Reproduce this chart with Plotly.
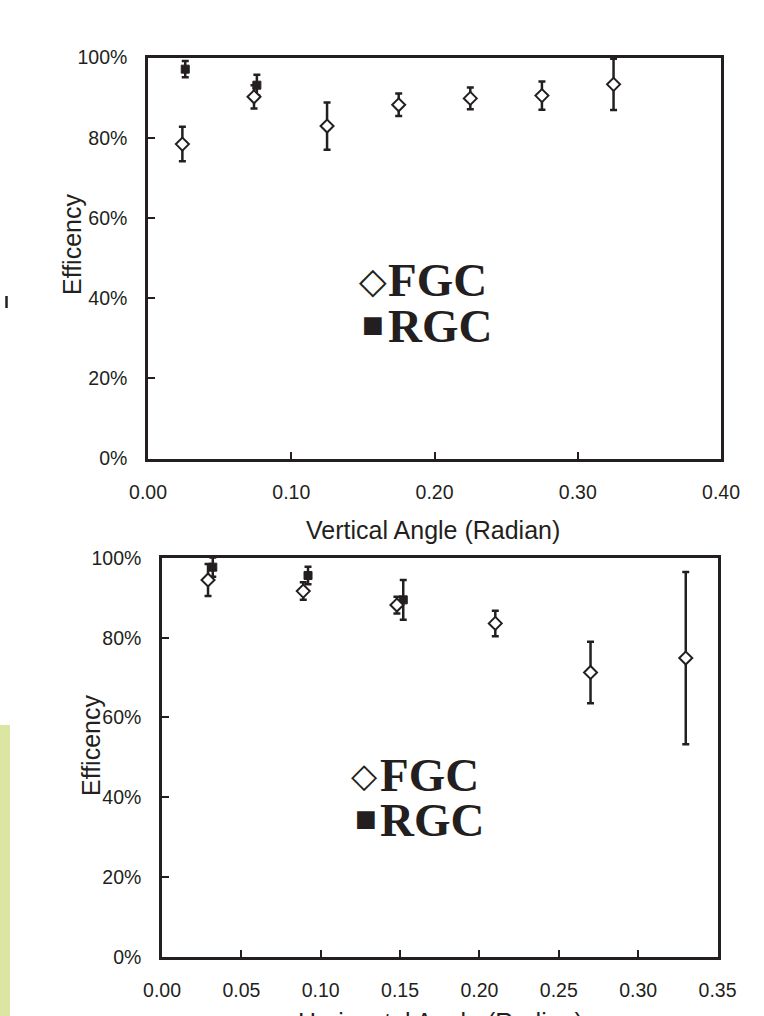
import plotly.graph_objects as go

# ---------------- data ----------------
# Top panel: Vertical angle
v_fgc_x = [0.024, 0.074, 0.125, 0.175, 0.225, 0.275, 0.325]
v_fgc_y = [0.784, 0.902, 0.829, 0.882, 0.898, 0.905, 0.933]
v_fgc_err = [0.043, 0.029, 0.059, 0.028, 0.027, 0.035, 0.064]
v_rgc_x = [0.026, 0.076]
v_rgc_y = [0.971, 0.931]
v_rgc_err = [0.020, 0.026]

# Bottom panel: Horizontal angle
h_fgc_x = [0.029, 0.089, 0.148, 0.210, 0.270, 0.330]
h_fgc_y = [0.945, 0.917, 0.882, 0.836, 0.713, 0.749]
h_fgc_err = [0.040, 0.022, 0.021, 0.032, 0.077, 0.216]
h_rgc_x = [0.032, 0.092, 0.152]
h_rgc_y = [0.977, 0.956, 0.895]
h_rgc_err = [0.024, 0.022, 0.050]

y_ticks = [0, 0.2, 0.4, 0.6, 0.8, 1.0]
top_x_ticks = [0, 0.1, 0.2, 0.3, 0.4]
bot_x_ticks = [0, 0.05, 0.1, 0.15, 0.2, 0.25, 0.3, 0.35]

# ---------------- layout helpers ----------------
W, H = 764, 1016
def px(x):
    return x / W
def py(y):
    return 1 - y / H

INK = "#231f20"
SANS = "Liberation Sans, Arial, sans-serif"
SERIF = "Liberation Serif, Times New Roman, serif"

fig = go.Figure()

def add_series(x, y, err, xa, ya, kind):
    if kind == "rgc":
        marker = dict(symbol="square", size=8, color=INK, line=dict(color=INK, width=1))
    else:
        marker = dict(symbol="diamond", size=10, color="white", line=dict(color=INK, width=2))
    fig.add_trace(go.Scatter(
        x=x, y=y, mode="markers", xaxis=xa, yaxis=ya, showlegend=False,
        marker=marker,
        error_y=dict(type="data", array=err, visible=True, color=INK, thickness=2.5, width=3.5),
    ))

add_series(v_rgc_x, v_rgc_y, v_rgc_err, "x", "y", "rgc")
add_series(v_fgc_x, v_fgc_y, v_fgc_err, "x", "y", "fgc")
add_series(h_rgc_x, h_rgc_y, h_rgc_err, "x2", "y2", "rgc")
add_series(h_fgc_x, h_fgc_y, h_fgc_err, "x2", "y2", "fgc")

axis_common = dict(
    showline=True, linecolor=INK, linewidth=2.5, mirror=True,
    ticks="inside", ticklen=7, tickwidth=2, tickcolor=INK,
    showgrid=False, zeroline=False, automargin=False,
    tickfont=dict(family=SANS, size=19.5, color=INK),
    ticklabelstandoff=14,
)

fig.update_layout(
    template="none",
    width=W, height=H, autosize=False,
    margin=dict(l=0, r=0, t=0, b=0, pad=0, autoexpand=False),
    paper_bgcolor="white", plot_bgcolor="white",
    xaxis=dict(axis_common, domain=[px(148), px(721)], range=[0, 0.4],
               tickvals=top_x_ticks, tickformat=".2f", anchor="y"),
    yaxis=dict(axis_common, domain=[py(458.5), py(57.5)], range=[0, 1],
               tickvals=y_ticks, tickformat=".0%", anchor="x"),
    xaxis2=dict(axis_common, domain=[px(162), px(717.5)], range=[0, 0.35],
                tickvals=bot_x_ticks, tickformat=".2f", anchor="y2"),
    yaxis2=dict(axis_common, domain=[py(956.7), py(558)], range=[0, 1],
                tickvals=y_ticks, tickformat=".0%", anchor="x2"),
)

annotations = []
def txt(x, y, text, size, family=SANS, angle=0, xanchor="center", yanchor="middle", bold=False):
    if bold:
        text = "<b>" + text + "</b>"
    annotations.append(dict(
        x=px(x), y=py(y), xref="paper", yref="paper", text=text, showarrow=False,
        textangle=angle, xanchor=xanchor, yanchor=yanchor,
        font=dict(family=family, size=size, color=INK),
    ))

# axis titles
txt(433, 530, "Vertical Angle (Radian)", 25)
txt(72, 245, "Efficency", 25, angle=-90)
txt(91, 746, "Efficency", 25, angle=-90)
txt(440, 1022, "Horizontal Angle (Radian)", 25, yanchor="middle")

# in-plot legends (top)
txt(373, 281, "◇", 36, family="DejaVu Sans")
txt(386, 280, "FGC", 47, family=SERIF, xanchor="left", bold=True)
txt(373, 324, "■", 23, family="DejaVu Sans")
txt(386, 326, "RGC", 47, family=SERIF, xanchor="left", bold=True)
# in-plot legends (bottom)
txt(364, 775, "◇", 34, family="DejaVu Sans")
txt(378, 775, "FGC", 47, family=SERIF, xanchor="left", bold=True)
txt(366, 818, "■", 23, family="DejaVu Sans")
txt(378, 820, "RGC", 47, family=SERIF, xanchor="left", bold=True)

fig.update_layout(annotations=annotations)

# page decorations
fig.add_shape(type="rect", xref="paper", yref="paper",
              x0=px(0), x1=px(10), y0=py(1016), y1=py(725),
              fillcolor="#dde5a3", line=dict(width=0), layer="below")
fig.add_shape(type="line", xref="paper", yref="paper",
              x0=px(6.5), x1=px(6.5), y0=py(296), y1=py(308),
              line=dict(color=INK, width=2.5))

fig.write_html("out.html", config={"displayModeBar": False},
               post_script="document.body.style.margin='0px';document.body.style.overflow='hidden';")
